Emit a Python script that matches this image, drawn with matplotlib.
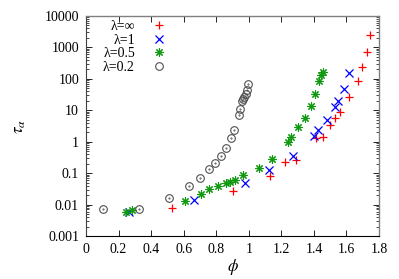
import numpy as np
import matplotlib
matplotlib.use("Agg")
import matplotlib.pyplot as plt
from matplotlib.ticker import LogLocator, FixedLocator, NullFormatter, FuncFormatter

plt.rcParams['font.family'] = ['Liberation Serif', 'DejaVu Serif']
plt.rcParams['mathtext.fontset'] = 'stix'

# lambda = infinity
phiInf = [0.53, 0.903, 1.128, 1.22, 1.288, 1.41, 1.456, 1.50, 1.531, 1.562, 1.614, 1.673, 1.697, 1.726, 1.747]
tauInf = [0.0076, 0.028, 0.083, 0.22, 0.26, 1.3, 1.45, 3.5, 5.7, 8.8, 26, 85, 240, 700, 2400]

# lambda = 1
phi1 = [0.266, 0.665, 0.979, 1.126, 1.27, 1.403, 1.424, 1.478, 1.528, 1.548, 1.583, 1.614]
tau1 = [0.0059, 0.014, 0.049, 0.123, 0.35, 1.5, 2.3, 4.8, 12.9, 20, 46, 153]

# lambda = 0.5
phi05 = [0.246, 0.281, 0.606, 0.706, 0.757, 0.813, 0.858, 0.885, 0.913, 0.966, 1.065,
         1.143, 1.243, 1.259, 1.305, 1.346, 1.383, 1.406, 1.432, 1.446, 1.456]
tau05 = [0.0059, 0.0066, 0.013, 0.022, 0.031, 0.040, 0.050, 0.054, 0.062, 0.089, 0.149,
         0.29, 1.0, 1.38, 3.0, 5.7, 14, 33, 88, 135, 160]

# lambda = 0.2
phi02 = [0.106, 0.324, 0.51, 0.635, 0.70, 0.758, 0.794, 0.827, 0.858, 0.889, 0.911,
         0.94, 0.948, 0.96, 0.966, 0.972, 0.98, 0.987, 0.993]
tau02 = [0.0071, 0.0074, 0.0166, 0.04, 0.072, 0.138, 0.21, 0.35, 0.63, 1.3, 2.4,
         7, 11, 19, 22, 27, 33, 45, 67]

xTicks = [0, 0.2, 0.4, 0.6, 0.8, 1, 1.2, 1.4, 1.6, 1.8]
yTicks = [0.001, 0.01, 0.1, 1, 10, 100, 1000, 10000]

fig = plt.figure(figsize=(3.99, 2.79), dpi=100)
ax = fig.add_axes([0.2155, 0.154, 0.7345, 0.789])

ax.plot(phiInf, tauInf, linestyle='none', marker='+', color='#ff0000', markersize=6, markeredgewidth=0.9, label=u'\u03bb=\u221e')
ax.plot(phi1, tau1, linestyle='none', marker='x', color='#0000ff', markersize=5.5, markeredgewidth=0.9, label=u'\u03bb=1')
ax.plot(phi05, tau05, linestyle='none', marker=(8, 2, 0), color='#119911', markersize=6, markeredgewidth=0.8, label=u'\u03bb=0.5')
ax.plot(phi02, tau02, linestyle='none', marker='o', fillstyle='none', color='#505050', markersize=5.5, markeredgewidth=0.8, label=u'\u03bb=0.2')
ax.plot(phi02, tau02, linestyle='none', marker='.', color='#505050', markersize=1.0)

ax.set_yscale('log')
ax.set_xlim(0, 1.8)
ax.set_ylim(0.001, 10000)
ax.xaxis.set_major_locator(FixedLocator(xTicks))
ax.xaxis.set_major_formatter(FuncFormatter(lambda v, p: ('%g' % v)))
ax.yaxis.set_major_locator(FixedLocator(yTicks))
ax.yaxis.set_major_formatter(FuncFormatter(lambda v, p: ('%g' % v)))
ax.yaxis.set_minor_locator(LogLocator(base=10, subs=np.arange(2, 10), numticks=20))
ax.yaxis.set_minor_formatter(NullFormatter())

ax.tick_params(which='both', direction='in', top=True, right=True, labelsize=10, colors='#000000')
ax.tick_params(which='major', length=4, width=0.6, pad=5)
ax.tick_params(which='minor', length=2, width=0.5)

for side in ['top', 'right']:
    ax.spines[side].set_color('#808080')
    ax.spines[side].set_linewidth(1.0)
ax.spines['left'].set_color('#404040')
ax.spines['bottom'].set_color('#000000')

ax.set_xlabel(r'$\phi$', fontsize=12, labelpad=1)
ax.set_ylabel(r'$\tau_\alpha$', fontsize=12, labelpad=12)

leg = ax.legend(loc='upper left', bbox_to_anchor=(0.03, 1.02), frameon=False, markerfirst=False,
                fontsize=10, handlelength=1.0, handletextpad=1.2, labelspacing=0.05, borderaxespad=0.2)

fig.savefig('out.png', dpi=100)
